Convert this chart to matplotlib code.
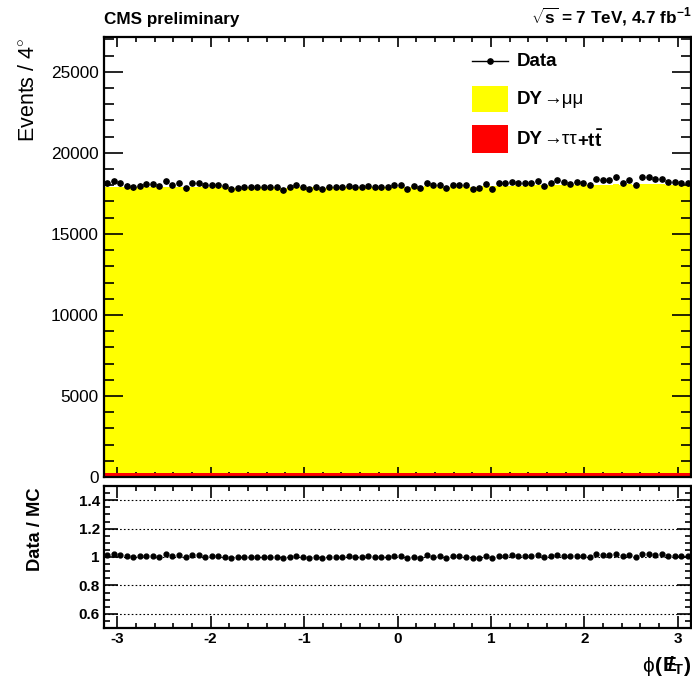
import numpy as np
import matplotlib
matplotlib.use("Agg")
import matplotlib.pyplot as plt
from matplotlib.ticker import MultipleLocator, FixedLocator, NullFormatter
from matplotlib.patches import Rectangle
from matplotlib.lines import Line2D
from matplotlib.transforms import IdentityTransform

plt.rcParams['font.family'] = ['Liberation Sans', 'DejaVu Sans']
plt.rcParams['mathtext.fontset'] = 'custom'
plt.rcParams['mathtext.rm'] = 'Liberation Sans'
plt.rcParams['mathtext.it'] = 'Liberation Sans:italic'
plt.rcParams['mathtext.bf'] = 'Liberation Sans:bold'
plt.rcParams['axes.unicode_minus'] = False

# ---- histogram contents: phi of missing ET, 4 degree bins over [-pi, pi] ----
n_bins = 90

data_counts = [
    18120, 18280, 18120, 17980, 17870, 17980, 18060, 18060, 17950, 18240,
    17990, 18120, 17810, 18160, 18160, 17990, 17990, 17990, 17950, 17770,
    17830, 17870, 17870,
    17910, 17910, 17910, 17870, 17710, 17910, 18000, 17910, 17750, 17870,
    17790, 17910, 17910, 17910, 17950, 17910, 17910, 17950, 17910, 17870,
    17910, 18000,
    18000, 17790, 17950, 17830, 18120, 18000, 18040, 17830, 18000, 18000,
    18000, 17790, 17830, 18080, 17790, 18120, 18120, 18200, 18120, 18120,
    18120, 18240,
    17955, 18160, 18325, 18200, 18080, 18200, 18160, 18040, 18370, 18325,
    18325, 18490, 18120, 18325, 18040, 18490, 18490, 18370, 18370, 18200,
    18200, 18120, 18120,
]

mc_total = [
    17880, 17900, 17920, 17900, 17880, 17890, 17910, 17900, 17890, 17920,
    17900, 17880, 17870, 17900, 17920, 17930, 17910, 17900, 17890, 17870,
    17860, 17880, 17870,
    17880, 17870, 17890, 17880, 17860, 17880, 17900, 17890, 17870, 17880,
    17860, 17880, 17900, 17890, 17880, 17900, 17890, 17880, 17900, 17890,
    17880, 17900,
    17910, 17900, 17920, 17900, 17930, 17940, 17920, 17910, 17930, 17920,
    17940, 17920, 17910, 17950, 17930, 17960, 17970, 17980, 17990, 17970,
    17990, 18000,
    18000, 17990, 18010, 18020, 18000, 18010, 18030, 18020, 18040, 18030,
    18020, 18050, 18030, 18050, 18040, 18060, 18070, 18060, 18050, 18040,
    18030, 18040, 18020,
]

dy_tautau_tt = [
    232, 228, 235, 230, 226, 233, 229, 231, 234, 227,
    230, 232, 228, 225, 231, 233, 229, 230, 227, 232,
    234, 228, 230,
    231, 226, 229, 233, 230, 228, 232, 227, 231, 229,
    234, 230, 226, 232, 228, 231, 229, 233, 227, 230,
    232, 228,
    230, 233, 227, 231, 229, 232, 228, 234, 230, 226,
    231, 229, 233, 228, 230, 232, 227, 231, 229, 233,
    230, 228,
    232, 229, 231, 227, 233, 230, 228, 232, 229, 231,
    226, 234, 230, 228, 232, 229, 231, 227, 233, 230,
    228, 232, 229,
]

x_min, x_max = -np.pi, np.pi
main_ylim = (0, 27150)
ratio_ylim = (0.5, 1.5)
ratio_major = [0.6, 0.8, 1.0, 1.2, 1.4]
ratio_labels = ['0.6', '0.8', '1', '1.2', '1.4']

data = np.array(data_counts, dtype=float)
mc = np.array(mc_total, dtype=float)
bkg = np.array(dy_tautau_tt, dtype=float)
edges = np.linspace(x_min, x_max, n_bins + 1)
centers = 0.5 * (edges[:-1] + edges[1:])
ratio = data / mc
ratio_err = np.sqrt(data) / mc

# ---- figure layout ----
W, H = 692, 683
fig = plt.figure(figsize=(W / 100, H / 100), dpi=100)
renderer = fig.canvas.get_renderer()

def fig_rect(x0, y0, x1, y1):
    return [x0 / W, 1 - y1 / H, (x1 - x0) / W, (y1 - y0) / H]

def text_run(px, py, pieces, size, ha='left', va='center', zorder=6):
    """Draw consecutive text pieces with mixed weights starting at pixel (px, py)."""
    arts = []
    x = px
    for s, weight in pieces:
        t = fig.text(x, H - py, s, fontsize=size, fontweight=weight,
                     ha='left', va=va, transform=IdentityTransform(),
                     zorder=zorder)
        w = t.get_window_extent(renderer=renderer).width
        arts.append(t)
        x += w
    if ha == 'right':
        shift = x - px
        for t in arts:
            xx, yy = t.get_position()
            t.set_position((xx - shift, yy))
    return arts

ax = fig.add_axes(fig_rect(104, 37, 691, 477))
axr = fig.add_axes(fig_rect(104, 486, 691, 628))

# ---- main panel ----
ax.stairs(mc, edges, baseline=0, fill=True, color='#ffff00', lw=0, zorder=1)
ax.stairs(bkg, edges, baseline=0, fill=True, color='#ff0000', lw=0, zorder=2)
ax.errorbar(centers, data, yerr=np.sqrt(data), fmt='o', color='black',
            ms=3.8, elinewidth=1.0, capsize=0, zorder=3)

ax.set_xlim(x_min, x_max)
ax.set_ylim(*main_ylim)
ax.xaxis.set_major_locator(MultipleLocator(1))
ax.xaxis.set_minor_locator(MultipleLocator(0.2))
ax.xaxis.set_major_formatter(NullFormatter())
ax.yaxis.set_major_locator(MultipleLocator(5000))
ax.yaxis.set_minor_locator(MultipleLocator(1000))
ax.tick_params(axis='both', which='both', direction='in', top=True, right=True,
               width=1.2, color='black')
ax.tick_params(axis='x', which='major', length=7.5)
ax.tick_params(axis='x', which='minor', length=3.8)
ax.tick_params(axis='y', which='major', length=13.5, labelsize=12.4, pad=4)
ax.tick_params(axis='y', which='minor', length=7)
for s in ax.spines.values():
    s.set_linewidth(1.6)

# legend drawn in axes pixel layout
def px_to_axes(px, py):
    return ((px - 104) / (691 - 104), (477 - py) / (477 - 37))

lx0, ly = px_to_axes(472, 61)
lx1, _ = px_to_axes(508, 61)
lxm, _ = px_to_axes(490, 61)
ax.add_line(Line2D([lx0, lx1], [ly, ly], color='black', lw=1.0,
                   transform=ax.transAxes, zorder=5))
ax.add_line(Line2D([lxm], [ly], marker='o', ms=3.8, color='black',
                   transform=ax.transAxes, zorder=5))
for (y0, y1, col) in [(86, 112, '#ffff00'), (125, 153, '#ff0000')]:
    bx0, by0 = px_to_axes(472, y1)
    bx1, by1 = px_to_axes(508, y0)
    ax.add_patch(Rectangle((bx0, by0), bx1 - bx0, by1 - by0, facecolor=col,
                           edgecolor='none', transform=ax.transAxes, zorder=5))

legend_entries = [
    (61, [('Data', 'bold')]),
    (99, [('DY', 'bold'), ('→μμ', 'normal')]),
    (140, [('DY', 'bold'), ('→ττ', 'normal'),
           (r'+t$\mathbf{\bar{t}}$', 'bold')]),
]
for py, pieces in legend_entries:
    text_run(517, py, pieces, 13.5)

# ---- ratio panel ----
for yv in ratio_major:
    axr.axhline(yv, color='black', lw=0.8, ls=(0, (1.5, 2)), zorder=1)
axr.errorbar(centers, ratio, yerr=ratio_err, fmt='o', color='black',
             ms=3.5, elinewidth=1.0, capsize=0, zorder=3)
axr.set_xlim(x_min, x_max)
axr.set_ylim(*ratio_ylim)
axr.xaxis.set_major_locator(MultipleLocator(1))
axr.xaxis.set_minor_locator(MultipleLocator(0.2))
axr.yaxis.set_major_locator(FixedLocator(ratio_major))
axr.yaxis.set_minor_locator(MultipleLocator(0.05))
axr.set_yticklabels(ratio_labels)
axr.tick_params(axis='both', which='both', direction='in', top=True, right=True,
                width=1.2, color='black')
axr.tick_params(axis='x', which='major', length=8.5, labelsize=11, pad=3)
axr.tick_params(axis='x', which='minor', length=3.8)
axr.tick_params(axis='y', which='major', length=10, labelsize=11, pad=3)
axr.tick_params(axis='y', which='minor', length=4.5)
for lab in axr.get_xticklabels() + axr.get_yticklabels():
    lab.set_fontweight('bold')
for s in axr.spines.values():
    s.set_linewidth(1.6)

# ---- titles and axis labels ----
fig.text(104 / W, 1 - 24 / H, 'CMS preliminary', fontsize=12.3,
         fontweight='bold', ha='left', va='baseline')
fig.text(691 / W, 1 - 24 / H,
         r'$\mathbf{\sqrt{s}}$ = 7 TeV, 4.7 fb$^{\mathbf{-1}}$',
         fontsize=12.3, fontweight='bold', ha='right', va='baseline')
fig.text(28 / W, 1 - 37 / H, r'Events / 4$^{\circ}$', fontsize=15.5,
         rotation=90, ha='center', va='top')
fig.text(35 / W, 1 - 487 / H, 'Data / MC', fontsize=13.2, fontweight='bold',
         rotation=90, ha='center', va='top')
text_run(691, 672, [(r'$\mathrm{\phi}$', 'normal'), ('(', 'bold'),
                    (r'$\mathbf{E\!\!\!/_{T}}$', 'bold'), (')', 'bold')],
         15, ha='right', va='baseline')

fig.savefig('out.png', dpi=100)
